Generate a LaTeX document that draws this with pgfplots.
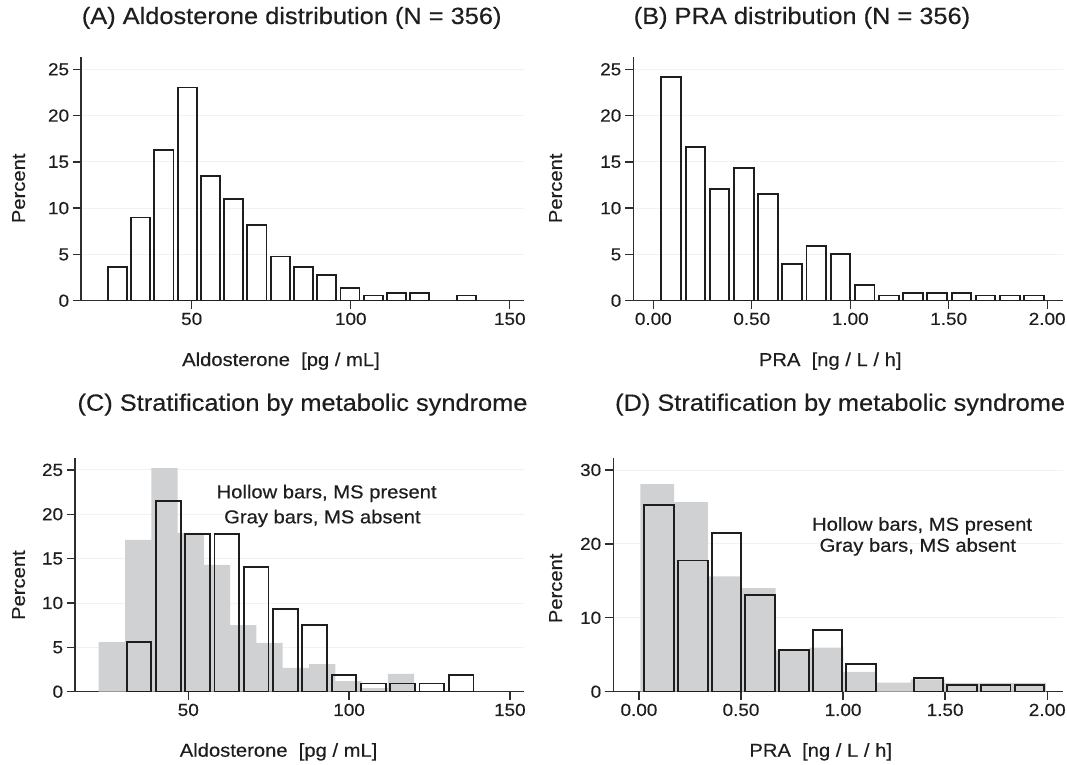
\documentclass[border=0pt]{standalone}
\usepackage{fontspec}
\setmainfont{Liberation Sans}[FakeStretch=1.08, FakeBold=0.4]
\usepackage{pgfplots}
\pgfplotsset{compat=1.18}
\definecolor{ink}{HTML}{1E1E1E}
\definecolor{axisgray}{HTML}{2E2E2E}
\definecolor{msabsent}{HTML}{D0D1D3}
\definecolor{gridgray}{HTML}{F2F2F2}

\tikzset{note/.style={anchor=base, font=\fontsize{18.7}{22}\selectfont, text=ink}}
\pgfplotsset{
  stata/.style={
    scale only axis,
    axis x line*=bottom, axis y line*=left,
    tick align=outside, xtick pos=bottom, ytick pos=left,
    major tick length=8.5pt,
    axis line style={line width=1.3pt, axisgray},
    major tick style={line width=1.3pt, axisgray},
    ymajorgrids, grid style={line width=0.8pt, gridgray},
    ymin=0,
    /pgf/number format/assume math mode=true,
    tick label style={font=\fontsize{17.5}{20}\selectfont, text=ink},
    label style={font=\fontsize{18.7}{22}\selectfont, text=ink},
    title style={font=\fontsize{23.5}{28}\selectfont, text=ink, anchor=base},
    xlabel style={anchor=base},
  },
  hollow/.style={ybar, bar shift=0pt, draw=ink, line width=1.9pt, fill=none},
  absent/.style={ybar, bar shift=0pt, draw=none, fill=msabsent},
}

\begin{document}
\begin{tikzpicture}
\path[use as bounding box] (0,0) rectangle (1067pt,-764pt);

% (A) aldosterone, all subjects
\begin{axis}[stata,
  at={(81.1pt,-300.7pt)}, anchor=south west,
  width=442.9pt, height=244.1pt,
  xmin=15.23, xmax=154.46, ymax=26.37,
  xtick={50,100,150}, ytick={0,5,...,25},
  title={(A) Aldosterone distribution (N = 356)},
  title style={at={(axis description cs:0.4755,1.109)}},
  xlabel={Aldosterone\ \ [pg / mL]},
  xlabel style={at={(axis description cs:0.4513,-0.2675)}},
  ylabel={Percent},
  ylabel style={at={(axis description cs:-0.141,0.4605)}, anchor=center},
]
\addplot[hollow, bar width=6.0] coordinates {
  (26.66,3.65) (33.97,8.99) (41.28,16.29) (48.59,23.03) (55.90,13.48)
  (63.21,10.96) (70.52,8.15) (77.83,4.78) (85.14,3.65) (92.45,2.81)
  (99.76,1.40) (107.07,0.56) (114.38,0.84) (121.69,0.84) (136.31,0.56)};
\end{axis}

% (B) PRA, all subjects
\begin{axis}[stata,
  at={(633.3pt,-300.7pt)}, anchor=south west,
  width=429.2pt, height=244.1pt,
  xmin=-0.1016, xmax=2.078, ymax=26.37,
  xtick={0,0.5,1,1.5,2}, xticklabels={0.00,0.50,1.00,1.50,2.00},
  ytick={0,5,...,25},
  title={(B) PRA distribution (N = 356)},
  title style={at={(axis description cs:0.393,1.109)}},
  xlabel={PRA\ \ [ng / L / h]},
  xlabel style={at={(axis description cs:0.4588,-0.2675)}},
  ylabel={Percent},
  ylabel style={at={(axis description cs:-0.181,0.4605)}, anchor=center},
]
\addplot[hollow, bar width=0.100] coordinates {
  (0.0909,24.16) (0.2137,16.57) (0.3365,12.08) (0.4593,14.33) (0.5821,11.52)
  (0.7049,3.93) (0.8277,5.90) (0.9505,5.06) (1.0733,1.69) (1.1961,0.56)
  (1.3189,0.84) (1.4417,0.84) (1.5645,0.84) (1.6873,0.56) (1.8101,0.56)
  (1.9329,0.56)};
\end{axis}

% (C) aldosterone by MS
\begin{axis}[stata,
  at={(75.1pt,-691.7pt)}, anchor=south west,
  width=448.9pt, height=233.4pt,
  xmin=14.8, xmax=154.4, ymax=26.3,
  xtick={50,100,150}, ytick={0,5,...,25},
  title={(C) Stratification by metabolic syndrome},
  title style={at={(axis description cs:0.5066,1.178)}},
  xlabel={Aldosterone\ \ [pg / mL]},
  xlabel style={at={(axis description cs:0.4533,-0.2785)}},
  ylabel={Percent},
  ylabel style={at={(axis description cs:-0.1259,0.457)}, anchor=center},
]
\addplot[absent, bar width=8.175] coordinates {
  (26.23,5.6) (34.41,17.1) (42.58,25.2) (50.76,17.9) (58.93,14.3)
  (67.11,7.5) (75.28,5.5) (83.46,2.7) (91.63,3.1) (99.81,1.2)
  (107.98,0.4) (116.16,2.0)};
\addplot[hollow, bar width=7.7] coordinates {
  (34.68,5.61) (43.79,21.50) (52.89,17.76) (62.00,17.76) (71.10,14.02)
  (80.21,9.35) (89.32,7.48) (98.42,1.87) (107.53,0.93) (116.63,0.93)
  (125.74,0.93) (134.85,1.87)};
\node[note] at (rel axis cs:0.5603,0.8286) {Hollow bars, MS present};
\node[note] at (rel axis cs:0.5509,0.7215) {Gray bars, MS absent};
\end{axis}

% (D) PRA by MS
\begin{axis}[stata,
  at={(613.2pt,-691.7pt)}, anchor=south west,
  width=449.3pt, height=233.4pt,
  xmin=-0.126, xmax=2.075, ymax=31.58,
  xtick={0,0.5,1,1.5,2}, xticklabels={0.00,0.50,1.00,1.50,2.00},
  ytick={0,10,20,30},
  title={(D) Stratification by metabolic syndrome},
  title style={at={(axis description cs:0.505,1.178)}},
  xlabel={PRA\ \ [ng / L / h]},
  xlabel style={at={(axis description cs:0.4618,-0.2785)}},
  ylabel={Percent},
  ylabel style={at={(axis description cs:-0.128,0.443)}, anchor=center},
]
\addplot[absent, bar width=0.1657] coordinates {
  (0.0896,28.08) (0.2553,25.64) (0.4210,15.6) (0.5867,14.0) (0.7524,5.6)
  (0.9181,5.95) (1.0838,2.7) (1.2495,1.22) (1.4152,1.68) (1.5809,1.2)
  (1.7466,1.2) (1.9123,1.2)};
\addplot[hollow, bar width=0.145] coordinates {
  (0.0992,25.23) (0.2641,17.76) (0.4289,21.50) (0.5938,13.08) (0.7586,5.61)
  (0.9235,8.41) (1.0883,3.74) (1.4180,1.87) (1.5829,0.93) (1.7477,0.93)
  (1.9126,0.93)};
\node[note] at (rel axis cs:0.6875,0.6898) {Hollow bars, MS present};
\node[note] at (rel axis cs:0.678,0.5998) {Gray bars, MS absent};
\end{axis}
\end{tikzpicture}
\end{document}
